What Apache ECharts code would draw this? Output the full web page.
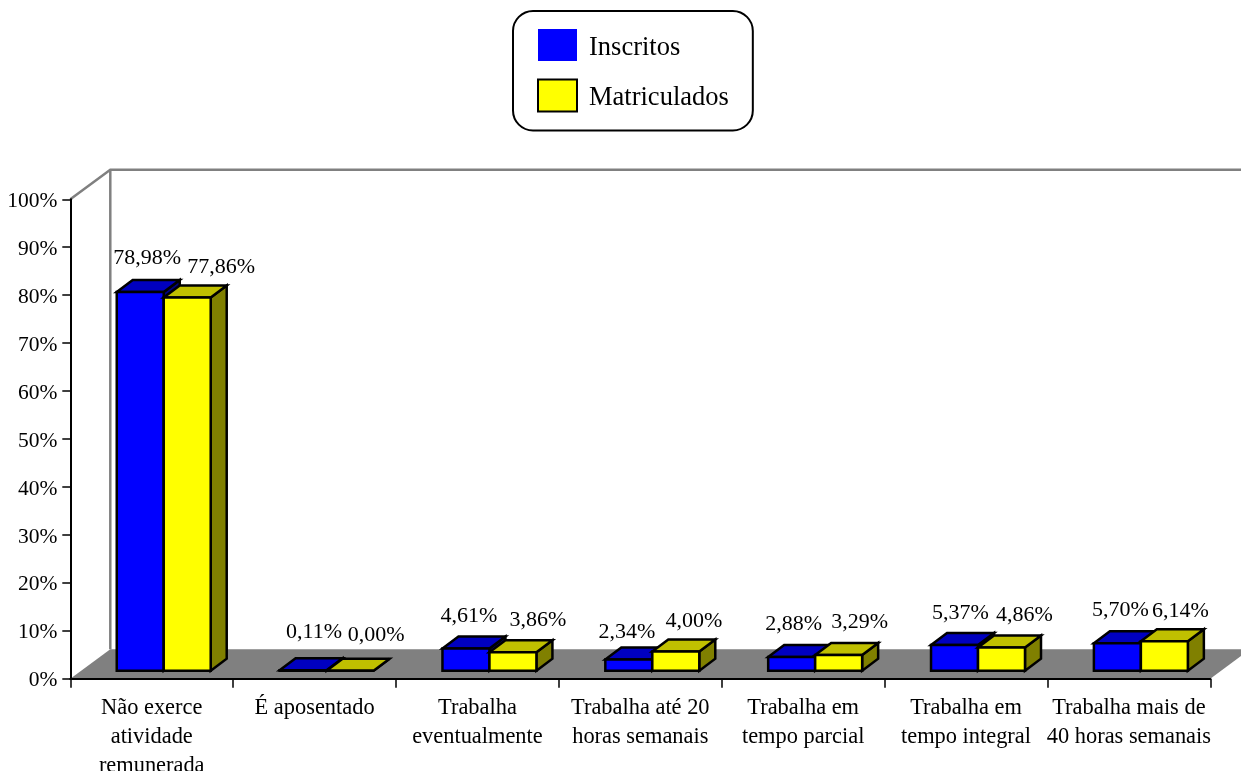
<!DOCTYPE html>
<html>
<head>
<meta charset="utf-8">
<style>html,body{margin:0;padding:0;background:#fff}#c{width:1241px;height:771px}</style>
<script src="https://cdn.jsdelivr.net/npm/echarts@6/dist/echarts.min.js"></script>
</head>
<body>
<div id="c"></div>
<script>
const categories = ['Não exerce\natividade\nremunerada','É aposentado','Trabalha\neventualmente','Trabalha até 20\nhoras semanais','Trabalha em\ntempo parcial','Trabalha em\ntempo integral','Trabalha mais de\n40 horas semanais'];
const inscritos = [78.98,0.11,4.61,2.34,2.88,5.37,5.70];
const matriculados = [77.86,0.00,3.86,4.00,3.29,4.86,6.14];
const yTicks = {min:0,max:100,interval:10};

// hand-placed label nudges of the original (dx, dy from front-face top centre)
const inscritosNudge = [[7,-34],[11,-38],[3,-32],[-2,-27],[2,-33],[6,-32],[3,-33]];
const matriculadosNudge = [[34,-30],[26,-35],[25,-32],[18,-30],[21,-33],[23,-32],[16,-30]];

const FONT = '"Liberation Serif","Times New Roman",serif';
const WALL = [40,-29.5], DEPTH = [16,-12], FRONT = [12,-8], BAR = 0.2885;
const GREY = '#808080';

function barItem(side, colors, nudge){
  return function(params, api){
    const i = api.value(0), v = api.value(1);
    const top = api.coord([i,v]), zero = api.coord([i,0]);
    const w = api.size([1,0])[0]*BAR;
    const x0 = zero[0]+FRONT[0]+(side===0?-w:0), x1 = x0+w;
    const yb = zero[1]+FRONT[1], yt = top[1]+FRONT[1];
    const dx = DEPTH[0], dy = DEPTH[1];
    const st = {stroke:'#000',lineWidth:2.5,lineJoin:'miter'};
    const poly = (pts,fill)=>({type:'polygon',shape:{points:pts},style:Object.assign({fill},st)});
    return {type:'group',children:[
      poly([[x1,yb],[x1+dx,yb+dy],[x1+dx,yt+dy],[x1,yt]],colors[2]),
      poly([[x0,yt],[x0+dx,yt+dy],[x1+dx,yt+dy],[x1,yt]],colors[1]),
      poly([[x0,yb],[x1,yb],[x1,yt],[x0,yt]],colors[0]),
      {type:'text',style:{x:(x0+x1)/2+nudge[i][0],y:yt+nudge[i][1],
        text:v.toFixed(2).replace('.',',')+'%',fill:'#000',font:'22px '+FONT,
        align:'center',verticalAlign:'middle'}}
    ]};
  };
}

function wallItem(params, api){
  const o = api.coord([0,0]), h = api.coord([0,100]);
  const band = api.size([1,0])[0];
  const x0 = o[0]-band/2, y0 = o[1], yt = h[1];
  const xr = x0+band*categories.length;
  const ln = {stroke:GREY,lineWidth:2.5,fill:'none'};
  return {type:'group',children:[
    {type:'polygon',shape:{points:[[x0,y0],[x0+WALL[0],y0+WALL[1]],[xr+WALL[0],y0+WALL[1]],[xr,y0]]},style:{fill:GREY}},
    {type:'polyline',shape:{points:[[x0,yt],[x0+WALL[0],yt+WALL[1]],[xr+WALL[0],yt+WALL[1]]]},style:ln},
    {type:'line',shape:{x1:x0+WALL[0],y1:yt+WALL[1],x2:x0+WALL[0],y2:y0+WALL[1]},style:ln}
  ]};
}

const chart = echarts.init(document.getElementById('c'),null,{renderer:'canvas'});
chart.setOption({
  animation:false,
  backgroundColor:'#fff',
  textStyle:{fontFamily:FONT,color:'#000'},
  legend:{
    show:true,left:513,top:11,orient:'vertical',icon:'rect',
    padding:[18,24,18,24],itemWidth:39,itemHeight:32,itemGap:17,
    borderColor:'#000',borderWidth:2,borderRadius:20,backgroundColor:'#fff',
    formatter:'{a|{name}}',
    textStyle:{fontFamily:FONT,fontSize:26.5,color:'#000',
      rich:{a:{fontFamily:FONT,fontSize:26.5,color:'#000',padding:[6,0,0,7]}}},
    data:[
      {name:'Inscritos',itemStyle:{color:'#0000ff',borderWidth:0}},
      {name:'Matriculados',itemStyle:{color:'#ffff00',borderColor:'#000',borderWidth:2}}
    ]
  },
  grid:{left:70.3,right:30.7,top:199.3,bottom:92.3,containLabel:false,outerBoundsMode:'none'},
  xAxis:{
    type:'category',data:categories,boundaryGap:true,
    axisLine:{show:true,lineStyle:{color:'#000',width:2}},
    axisTick:{show:true,alignWithLabel:false,length:9,lineStyle:{color:'#000',width:1.5}},
    axisLabel:{interval:0,margin:15,fontFamily:FONT,fontSize:22.4,lineHeight:29,color:'#000'},
    splitLine:{show:false}
  },
  yAxis:{
    type:'value',min:yTicks.min,max:yTicks.max,interval:yTicks.interval,
    axisLine:{show:true,lineStyle:{color:'#000',width:2}},
    axisTick:{show:true,length:8,lineStyle:{color:'#000',width:1.5}},
    axisLabel:{margin:13,fontFamily:FONT,fontSize:21.5,color:'#000',formatter:'{a|{value}%}',
      rich:{a:{fontFamily:FONT,fontSize:21.5,color:'#000',padding:[4,0,0,0]}}},
    splitLine:{show:false}
  },
  series:[
    {type:'custom',name:'chão',z:-1,silent:true,clip:false,renderItem:wallItem,data:[[0,0]],encode:{x:0,y:1}},
    {type:'custom',name:'Inscritos',z:2,clip:false,itemStyle:{color:'#0000ff'},
     renderItem:barItem(0,['#0000ff','#0000c0','#000080'],inscritosNudge),
     data:inscritos.map((v,i)=>[i,v]),encode:{x:0,y:1}},
    {type:'custom',name:'Matriculados',z:3,clip:false,itemStyle:{color:'#ffff00'},
     renderItem:barItem(1,['#ffff00','#c0c000','#808000'],matriculadosNudge),
     data:matriculados.map((v,i)=>[i,v]),encode:{x:0,y:1}}
  ]
});
</script>
</body>
</html>
